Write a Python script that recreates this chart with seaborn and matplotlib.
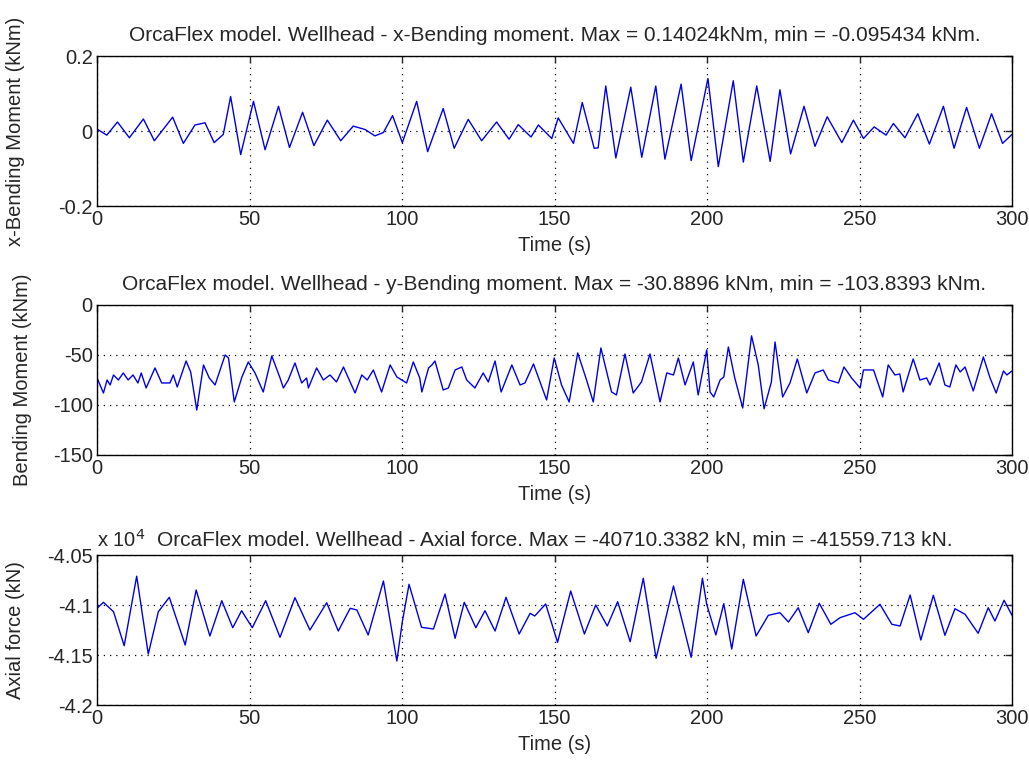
import matplotlib
matplotlib.use("Agg")
import matplotlib.pyplot as plt
import seaborn as sns
from matplotlib.ticker import FuncFormatter

# Wellhead x-bending moment (kNm), peaks and troughs
t_bx = [0, 3.2, 6.7, 10.6, 15.2, 18.8, 24.8, 28.3, 32.1, 35.4, 38.4, 41.4, 43.8, 47.1,
        51.3, 55.1, 59.5, 63.1, 67.4, 71.1, 75.5, 79.9, 84.0, 87.9, 91.1, 93.9, 96.9,
        100.1, 104.8, 108.4, 113.5, 117.1, 121.7, 126.1, 131.0, 135.1, 138.1, 142.3,
        144.7, 149.1, 151.2, 156.2, 159.1, 163.0, 164.3, 166.8, 170.1, 175.0, 178.6,
        183.2, 186.2, 191.5, 194.8, 200.3, 203.7, 208.6, 211.9, 216.3, 220.7, 223.9,
        227.4, 231.8, 235.4, 239.4, 244.2, 248.0, 251.3, 254.8, 258.7, 261.1, 264.9,
        269.1, 272.9, 277.5, 281.0, 285.1, 289.3, 293.3, 296.9, 300]
bx = [0.005, -0.011, 0.024, -0.018, 0.032, -0.026, 0.037, -0.033, 0.016, 0.022, -0.031,
      -0.009, 0.092, -0.063, 0.079, -0.050, 0.066, -0.044, 0.050, -0.039, 0.029, -0.026,
      0.013, 0.004, -0.013, -0.004, 0.041, -0.031, 0.079, -0.055, 0.060, -0.046, 0.031,
      -0.026, 0.024, -0.022, 0.017, -0.016, 0.016, -0.020, 0.035, -0.033, 0.076, -0.046,
      -0.045, 0.120, -0.072, 0.117, -0.070, 0.120, -0.075, 0.125, -0.079, 0.140, -0.095,
      0.134, -0.083, 0.120, -0.081, 0.110, -0.061, 0.066, -0.041, 0.038, -0.031, 0.029,
      -0.020, 0.011, -0.011, 0.020, -0.018, 0.046, -0.035, 0.066, -0.046, 0.063, -0.046,
      0.046, -0.033, -0.009]

# Wellhead y-bending moment (kNm)
t_by = [0, 2.1, 3.3, 4.3, 5.4, 7.0, 8.6, 10.2, 11.8, 13.4, 14.5, 16.1, 19.0, 21.2, 23.9,
        25.0, 26.3, 29.2, 30.7, 32.7, 34.9, 36.8, 38.7, 42.0, 43.1, 45.0, 47.5, 49.6,
        51.8, 54.5, 57.3, 60.0, 61.1, 62.7, 64.9, 67.1, 68.7, 69.3, 72.0, 74.2, 76.4,
        78.5, 80.8, 82.4, 84.6, 86.8, 88.6, 90.6, 93.3, 96.1, 98.3, 101.5, 103.7, 105.8,
        106.5, 108.7, 109.8, 110.8, 113.5, 115.2, 117.4, 119.6, 121.2, 123.9, 126.6,
        128.3, 130.5, 132.5, 136.0, 138.7, 140.3, 143.1, 147.4, 149.9, 152.3, 154.8,
        157.6, 160.5, 162.7, 165.2, 168.7, 170.3, 173.1, 175.8, 178.5, 181.3, 184.6,
        186.8, 189.0, 190.6, 192.8, 195.5, 197.1, 199.9, 201.0, 202.2, 204.3, 205.5,
        207.0, 209.1, 211.7, 214.6, 216.8, 218.7, 221.1, 222.3, 224.8, 227.2, 229.6,
        232.7, 235.4, 238.1, 239.8, 243.1, 244.9, 247.4, 250.2, 251.3, 254.6, 257.6,
        259.4, 261.6, 263.2, 264.3, 267.6, 269.8, 272.0, 273.1, 276.1, 278.0, 279.6,
        281.6, 283.0, 284.6, 287.3, 290.6, 292.8, 294.8, 297.2, 298.3, 300]
by = [-73, -88, -75, -80, -70, -75, -68, -75, -70, -78, -68, -83, -63, -78, -78, -70, -82,
      -56, -67, -105, -60, -73, -80, -50, -53, -97, -72, -57, -68, -87, -51, -73, -83,
      -75, -58, -78, -73, -83, -63, -75, -70, -77, -62, -73, -88, -70, -75, -65, -87,
      -60, -72, -78, -57, -73, -87, -63, -60, -56, -85, -83, -65, -62, -75, -83, -68,
      -77, -56, -87, -60, -80, -78, -59, -95, -53, -80, -97, -48, -75, -97, -43, -87,
      -90, -49, -88, -77, -49, -97, -68, -70, -53, -80, -57, -90, -45, -87, -92, -75,
      -72, -42, -73, -103, -30.9, -60, -103.8, -77, -37, -92, -78, -54, -88, -68, -65,
      -75, -78, -62, -73, -83, -65, -65, -92, -60, -70, -69, -87, -54, -75, -73, -80,
      -58, -80, -82, -60, -67, -62, -86, -52, -73, -88, -66, -70, -66]

# Wellhead axial force (kN)
t_fz = [0, 2.1, 5.4, 8.9, 13.0, 16.8, 20.1, 23.7, 28.9, 32.5, 37.0, 40.9, 44.5, 47.4,
        50.9, 55.3, 60.0, 64.9, 69.8, 75.3, 79.1, 83.0, 85.2, 88.9, 93.9, 98.3, 100.1,
        102.3, 106.4, 110.3, 114.1, 117.4, 120.4, 124.2, 127.2, 130.5, 134.1, 138.4,
        142.0, 143.5, 147.1, 151.0, 155.3, 159.8, 163.5, 167.3, 170.7, 174.8, 179.1,
        183.3, 189.0, 194.8, 198.5, 199.9, 202.9, 205.5, 208.1, 211.9, 216.1, 220.1,
        223.9, 226.7, 229.9, 233.2, 236.8, 240.6, 243.6, 248.5, 251.3, 256.7, 260.6,
        263.3, 266.6, 270.1, 274.2, 278.0, 281.3, 284.6, 288.9, 292.2, 294.4, 297.4, 300]
fz = [-41033, -40973, -41067, -41407, -40712, -41490, -41067, -40923, -41400, -40850,
      -41310, -40957, -41227, -41057, -41227, -40957, -41323, -40927, -41250, -40977,
      -41260, -41033, -41050, -41300, -40760, -41560, -41167, -40793, -41223, -41240,
      -40890, -41333, -40973, -41227, -41057, -41260, -40923, -41290, -41083, -41110,
      -40990, -41373, -40860, -41290, -41000, -41210, -40967, -41367, -40733, -41533,
      -40810, -41523, -40733, -40993, -41300, -40987, -41440, -40743, -41310, -41103,
      -41077, -41170, -41027, -41277, -40983, -41193, -41127, -41077, -41143, -40993,
      -41193, -41210, -40900, -41350, -40903, -41303, -41037, -41093, -41283, -41027,
      -41160, -40953, -41103]

sns.set_style("white")
plt.rcParams["font.family"] = ["Liberation Sans", "DejaVu Sans"]
plt.rcParams["axes.unicode_minus"] = False

fig = plt.figure(figsize=(10.29, 7.63), dpi=100)
left, width, height = 0.0943, 0.8892, 0.1966
bottoms = [0.7300, 0.4037, 0.0760]
fs = 14.5
blue = "#0000e6"

panels = [
    (t_bx, bx, 1.0, "x-Bending Moment (kNm)", (-0.2, 0.2), [-0.2, 0, 0.2],
     "OrcaFlex model. Wellhead - x-Bending moment. Max = 0.14024kNm, min = -0.095434 kNm.",
     -0.079, 11),
    (t_by, by, 1.0, "Bending Moment (kNm)", (-150, 0), [-150, -100, -50, 0],
     "OrcaFlex model. Wellhead - y-Bending moment. Max = -30.8896 kNm, min = -103.8393 kNm.",
     -0.071, 11),
    (t_fz, fz, 1e4, "Axial force (kN)", (-4.2, -4.05), [-4.2, -4.15, -4.1, -4.05],
     "OrcaFlex model. Wellhead - Axial force. Max = -40710.3382 kN, min = -41559.713 kN.",
     -0.079, 7),
]

for i, (t, v, scale, ylab, ylim, yticks, title, lx, tpad) in enumerate(panels):
    ax = fig.add_axes([left, bottoms[i], width, height])
    sns.lineplot(x=t, y=[val / scale for val in v], ax=ax, color=blue,
                 linewidth=1.0, estimator=None)
    ax.set_xlim(0, 300)
    ax.set_ylim(*ylim)
    ax.set_xticks(range(0, 301, 50))
    ax.set_yticks(yticks)
    ax.yaxis.set_major_formatter(FuncFormatter(lambda val, p: f"{val:g}"))
    ax.tick_params(direction="in", top=True, right=True, length=5, labelsize=fs,
                   width=1, pad=3)
    ax.grid(True, color="black", linestyle=(0, (1, 4)), linewidth=0.9)
    for s in ax.spines.values():
        s.set_linewidth(1.0)
        s.set_color("black")
    ax.set_xlabel("Time (s)", fontsize=fs, labelpad=5)
    ax.set_ylabel(ylab, fontsize=fs)
    ax.yaxis.set_label_coords(lx, 0.5)
    ax.set_title(title, fontsize=15, pad=tpad)
    if scale != 1.0:
        ax.text(0, 1.025, "x 10$^{4}$", transform=ax.transAxes, fontsize=fs,
                ha="left", va="bottom")

fig.savefig("out.png", dpi=100)
